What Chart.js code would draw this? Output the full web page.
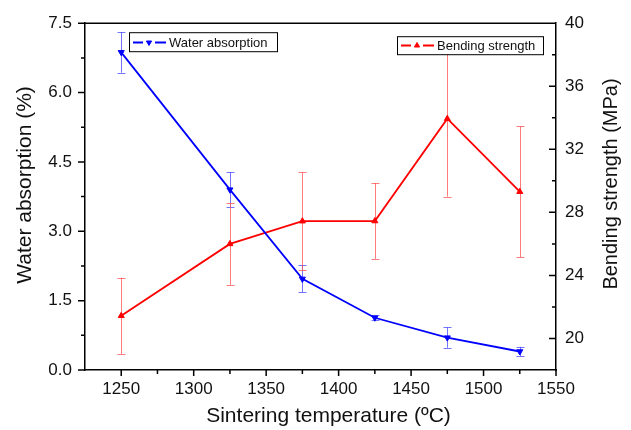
<!DOCTYPE html>
<html>
<head>
<meta charset="utf-8">
<style>
  html, body { margin: 0; padding: 0; background: #fff; }
  #chart { display: block; }
</style>
</head>
<body>
<canvas id="chart" width="631" height="430"></canvas>
<script src="https://cdn.jsdelivr.net/npm/chart.js@4"></script>
<script>
// sintering temperatures (ºC)
const temps = [1250, 1325, 1375, 1425, 1475, 1525];
// water absorption (%) with error
const water = [6.87, 3.90, 1.97, 1.13, 0.70, 0.40];
const waterErr = [0.44, 0.38, 0.29, 0.05, 0.22, 0.10];
// bending strength (MPa) with error
const strength = [21.44, 26.0, 27.44, 27.45, 33.94, 29.31];
const strengthErr = [2.42, 2.6, 3.1, 2.4, 4.94, 4.15];

const xTicks = [1250, 1300, 1350, 1400, 1450, 1500, 1550];
const xMinor = [1275, 1325, 1375, 1425, 1475, 1525];
const waterTicks = [0, 1.5, 3.0, 4.5, 6.0, 7.5];
const waterMinor = [0.75, 2.25, 3.75, 5.25, 6.75];
const strengthTicks = [20, 24, 28, 32, 36, 40];
const strengthMinor = [22, 26, 30, 34, 38];

const xTitle = 'Sintering temperature (ºC)';
const leftTitle = 'Water absorption (%)';
const rightTitle = 'Bending strength (MPa)';

const FONT = '"Liberation Sans", Arial, Helvetica, sans-serif';
Chart.defaults.font.family = FONT;
Chart.defaults.color = '#111';

const fixTicks = vals => scale => { scale.ticks = vals.map(v => ({ value: v })); };

// vertical error bars with caps, drawn under the lines
const errorBars = {
  id: 'errorBars',
  beforeDatasetsDraw(chart) {
    const ctx = chart.ctx;
    chart.data.datasets.forEach((ds, i) => {
      const meta = chart.getDatasetMeta(i);
      const ys = chart.scales[ds.yAxisID];
      ctx.save();
      ctx.strokeStyle = ds.errorColor;
      ctx.lineWidth = 1;
      meta.data.forEach((pt, j) => {
        const v = ds.data[j].y, e = ds.errors[j];
        const top = ys.getPixelForValue(v + e);
        const bot = ys.getPixelForValue(v - e);
        const x = Math.round(pt.x) + 0.5;
        ctx.beginPath();
        ctx.moveTo(x, top); ctx.lineTo(x, bot);
        ctx.moveTo(x - 4, Math.round(top) + 0.5); ctx.lineTo(x + 4, Math.round(top) + 0.5);
        ctx.moveTo(x - 4, Math.round(bot) + 0.5); ctx.lineTo(x + 4, Math.round(bot) + 0.5);
        ctx.stroke();
      });
      ctx.restore();
    });
  }
};

function drawLegendBox(ctx, ds, x, y, w, h) {
  ctx.save();
  ctx.fillStyle = '#fff';
  ctx.fillRect(x, y, w, h);
  ctx.strokeStyle = '#000';
  ctx.lineWidth = 1;
  ctx.strokeRect(x + 0.5, y + 0.5, w, h);
  const cy = Math.round(y + h / 2) + 0.5;
  ctx.strokeStyle = ds.borderColor;
  ctx.lineWidth = 1.8;
  ctx.beginPath();
  ctx.moveTo(x + 4, cy); ctx.lineTo(x + 14, cy);
  ctx.moveTo(x + 26, cy); ctx.lineTo(x + 37, cy);
  ctx.stroke();
  ctx.fillStyle = ds.borderColor;
  ctx.lineWidth = 1;
  Chart.helpers.drawPoint(ctx, { pointStyle: 'triangle', rotation: ds.rotation || 0, radius: 3, borderWidth: 1 }, x + 20, cy);
  ctx.fillStyle = '#111';
  ctx.font = '13px ' + FONT;
  ctx.textBaseline = 'middle';
  ctx.textAlign = 'left';
  ctx.fillText(ds.label, x + 40, cy + 0.5);
  ctx.restore();
}

// frame top line, minor/major tick marks, axis titles and the two legend boxes
const frame = {
  id: 'frame',
  afterDraw(chart) {
    const { ctx, chartArea: a, scales } = chart;
    ctx.save();
    ctx.strokeStyle = '#000';
    ctx.lineWidth = 1.5;
    ctx.beginPath();
    ctx.moveTo(a.left, a.top); ctx.lineTo(a.right, a.top);

    const yTick = (scale, vals, x0, x1) => vals.forEach(v => {
      const y = scale.getPixelForValue(v);
      ctx.moveTo(x0, y); ctx.lineTo(x1, y);
    });
    const xTick = (vals, len) => vals.forEach(v => {
      const x = scales.x.getPixelForValue(v);
      ctx.moveTo(x, a.bottom); ctx.lineTo(x, a.bottom + len);
    });
    yTick(scales.y, waterTicks, a.left - 7, a.left);
    yTick(scales.y, waterMinor, a.left - 4, a.left);
    yTick(scales.y1, strengthTicks, a.right - 7, a.right);
    yTick(scales.y1, strengthMinor, a.right - 4, a.right);
    xTick(xTicks, 6);
    xTick(xMinor, 4);
    ctx.stroke();

    ctx.fillStyle = '#111';
    ctx.font = '21px ' + FONT;
    ctx.textAlign = 'center';
    ctx.textBaseline = 'middle';
    ctx.fillText(xTitle, (a.left + a.right) / 2 + 8, 416);
    ctx.save();
    ctx.translate(25, 185);
    ctx.rotate(-Math.PI / 2);
    ctx.fillText(leftTitle, 0, 0);
    ctx.restore();
    ctx.save();
    ctx.font = '20px ' + FONT;
    ctx.translate(611, 184);
    ctx.rotate(-Math.PI / 2);
    ctx.fillText(rightTitle, 0, 0);
    ctx.restore();
    ctx.restore();

    const ds = chart.data.datasets;
    drawLegendBox(ctx, ds[0], a.left + 44, a.top + 9, 148, 19);
    drawLegendBox(ctx, ds[1], a.right - 159, a.top + 13, 146, 18);
  }
};

new Chart(document.getElementById('chart'), {
  type: 'line',
  data: {
    datasets: [
      {
        label: 'Water absorption',
        data: temps.map((t, i) => ({ x: t, y: water[i] })),
        errors: waterErr,
        errorColor: 'rgba(70,70,255,0.75)',
        yAxisID: 'y',
        borderColor: '#0000ff',
        backgroundColor: '#0000ff',
        borderWidth: 1.8,
        pointStyle: 'triangle',
        rotation: 180,
        pointRadius: 3.5,
        pointBorderWidth: 1,
        tension: 0
      },
      {
        label: 'Bending strength',
        data: temps.map((t, i) => ({ x: t, y: strength[i] })),
        errors: strengthErr,
        errorColor: 'rgba(255,80,80,0.75)',
        yAxisID: 'y1',
        borderColor: '#ff0000',
        backgroundColor: '#ff0000',
        borderWidth: 1.8,
        pointStyle: 'triangle',
        pointRadius: 3.5,
        pointBorderWidth: 1,
        tension: 0
      }
    ]
  },
  options: {
    responsive: false,
    animation: false,
    devicePixelRatio: 1,
    layout: { padding: { top: 20, left: 0, right: 0, bottom: 0 } },
    plugins: { legend: { display: false }, tooltip: { enabled: false } },
    scales: {
      x: {
        type: 'linear',
        min: 1225,
        max: 1550,
        afterBuildTicks: fixTicks(xTicks),
        afterFit: s => { s.height = 60; },
        grid: { display: false, drawTicks: false },
        border: { display: true, color: '#000', width: 1.5 },
        ticks: { padding: 9, font: { size: 17 }, autoSkip: false, maxRotation: 0, callback: v => String(v) }
      },
      y: {
        position: 'left',
        min: 0,
        max: 7.5,
        afterBuildTicks: fixTicks(waterTicks),
        afterFit: s => { s.width = 85; },
        grid: { display: false, drawTicks: false },
        border: { display: true, color: '#000', width: 1.5 },
        ticks: { padding: 13, font: { size: 17 }, callback: v => v.toFixed(1) }
      },
      y1: {
        position: 'right',
        min: 18,
        max: 40,
        afterBuildTicks: fixTicks(strengthTicks),
        afterFit: s => { s.width = 75; },
        grid: { display: false, drawTicks: false },
        border: { display: true, color: '#000', width: 1.5 },
        ticks: { padding: 9, font: { size: 17 }, callback: v => String(v) }
      }
    }
  },
  plugins: [errorBars, frame]
});
</script>
</body>
</html>
